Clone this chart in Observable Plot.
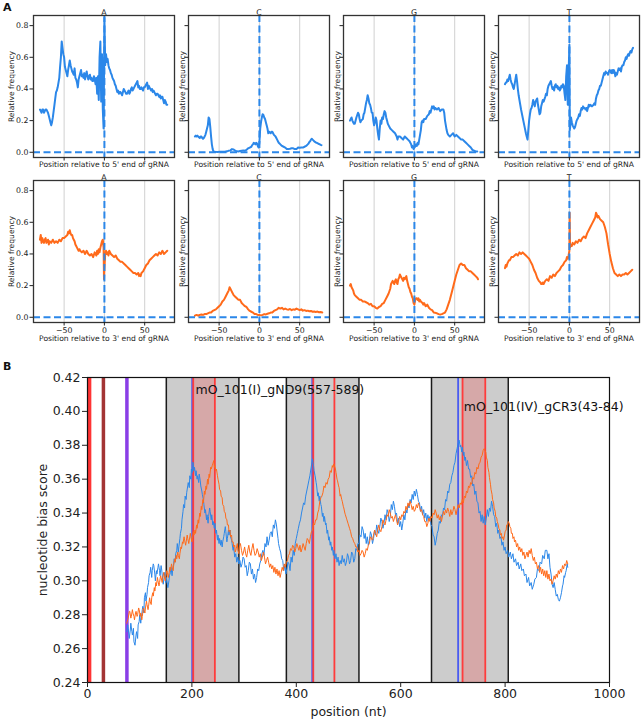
<!DOCTYPE html>
<html><head><meta charset="utf-8">
<script src="https://cdn.jsdelivr.net/npm/d3@7"></script>
<script src="https://cdn.jsdelivr.net/npm/@observablehq/plot@0.6"></script>
<style>
body{margin:0;background:#fff;font-family:"DejaVu Sans",sans-serif;}
#root{position:relative;width:641px;height:719px;overflow:hidden;background:#fff;}
#root svg{position:absolute;}
.plabel{position:absolute;font-weight:bold;font-size:11px;color:#111;font-family:"DejaVu Sans",sans-serif;}
</style></head>
<body><div id="root"></div>
<script>
// ---------- DATA: panel A (position, relative frequency) ----------
const nucleotides = ["A", "C", "G", "T"];
const endLabels = ["Position relative to 5' end of gRNA", "Position relative to 3' end of gRNA"];
const yLabelA = "Relative frequency";
const xTicksA = [-50, 0, 50];
const yTicksA = [0, 0.2, 0.4, 0.6, 0.8];

const five_A = [[-80,.27],[-79,.26],[-78,.25],[-77,.27],[-76,.27],[-75,.25],[-74,.26],[-73,.27],[-72,.27],[-71,.26],[-70,.25],[-69,.23],[-68,.21],[-67,.19],[-66,.17],[-65,.19],[-64,.22],[-63,.26],[-62,.30],[-61,.34],[-60,.38],[-59,.39],[-58,.41],[-57,.44],[-56,.47],[-55,.54],[-54,.60],[-53,.70],[-52,.66],[-51,.62],[-50,.60],[-49,.54],[-48,.52],[-47,.50],[-46,.48],[-45,.52],[-44,.55],[-43,.58],[-42,.55],[-41,.53],[-40,.51],[-39,.50],[-38,.49],[-37,.53],[-36,.47],[-35,.46],[-34,.44],[-33,.41],[-32,.46],[-31,.48],[-30,.50],[-29,.52],[-28,.48],[-27,.49],[-26,.47],[-25,.50],[-24,.46],[-23,.49],[-22,.51],[-21,.48],[-20,.46],[-19,.48],[-18,.49],[-17,.46],[-16,.47],[-15,.45],[-14,.45],[-13,.48],[-12,.46],[-11,.43],[-10,.47],[-9,.37],[-8,.48],[-7,.33],[-6,.60],[-5,.70],[-4,.32],[-3,.62],[-2,.27],[-1,.15],[0,.85],[1,.55],[2,.62],[3,.57],[4,.59],[5,.55],[6,.53],[7,.52],[8,.50],[9,.49],[10,.47],[11,.46],[12,.45],[13,.43],[14,.42],[15,.40],[16,.38],[17,.39],[18,.37],[19,.38],[20,.38],[21,.37],[22,.36],[23,.38],[24,.40],[25,.39],[26,.38],[27,.37],[28,.37],[29,.38],[30,.39],[31,.37],[32,.38],[33,.40],[34,.41],[35,.39],[36,.40],[37,.41],[38,.42],[39,.43],[40,.44],[41,.45],[42,.41],[43,.42],[44,.40],[45,.40],[46,.41],[47,.40],[48,.39],[49,.41],[50,.41],[51,.42],[52,.43],[53,.44],[54,.40],[55,.42],[56,.41],[57,.40],[58,.39],[59,.40],[60,.38],[61,.39],[62,.38],[63,.37],[64,.36],[65,.37],[66,.37],[67,.36],[68,.35],[69,.36],[70,.34],[71,.35],[72,.35],[73,.33],[74,.31],[75,.33],[76,.32],[77,.30],[78,.30]];
const five_C = [[-80,.10],[-79,.105],[-78,.10],[-77,.105],[-76,.10],[-75,.095],[-74,.09],[-73,.10],[-72,.10],[-71,.09],[-70,.085],[-69,.09],[-68,.10],[-67,.11],[-66,.13],[-65,.15],[-64,.17],[-63,.22],[-62,.21],[-61,.16],[-60,.10],[-59,.05],[-58,.02],[-57,.005],[-55,.003],[-52,.002],[-49,.003],[-46,.004],[-43,.003],[-40,.006],[-38,.01],[-36,.012],[-34,.02],[-32,.018],[-30,.01],[-28,.006],[-26,.005],[-24,.008],[-22,.01],[-20,.012],[-18,.01],[-16,.015],[-14,.025],[-12,.03],[-10,.035],[-9,.045],[-8,.05],[-7,.06],[-6,.055],[-5,.05],[-4,.06],[-3,.055],[-2,.04],[-1,.03],[0,.06],[1,.15],[2,.19],[3,.22],[4,.24],[5,.235],[6,.22],[7,.21],[8,.19],[9,.17],[10,.15],[11,.12],[12,.13],[13,.125],[14,.12],[15,.13],[16,.13],[17,.12],[18,.11],[19,.105],[20,.10],[21,.09],[22,.08],[23,.07],[24,.06],[25,.055],[26,.05],[28,.04],[30,.035],[32,.03],[34,.02],[36,.02],[38,.022],[40,.025],[42,.025],[44,.02],[46,.02],[48,.03],[50,.028],[52,.03],[54,.03],[56,.035],[58,.04],[60,.05],[61,.055],[62,.065],[63,.07],[64,.08],[65,.085],[66,.08],[67,.075],[68,.07],[69,.065],[70,.062],[71,.06],[72,.058],[73,.055],[74,.052],[75,.05],[76,.047],[77,.045]];
const five_G = [[-80,.20],[-79,.21],[-78,.22],[-77,.20],[-76,.19],[-75,.18],[-74,.18],[-72,.22],[-70,.25],[-69,.24],[-68,.21],[-67,.19],[-66,.20],[-64,.21],[-63,.24],[-62,.25],[-61,.28],[-60,.31],[-59,.33],[-58,.36],[-57,.34],[-56,.31],[-55,.30],[-54,.28],[-53,.25],[-52,.25],[-51,.20],[-50,.17],[-49,.19],[-48,.22],[-47,.20],[-46,.15],[-45,.11],[-44,.08],[-43,.15],[-42,.20],[-41,.18],[-40,.22],[-39,.21],[-38,.24],[-37,.26],[-36,.25],[-35,.22],[-34,.20],[-33,.18],[-32,.17],[-30,.15],[-28,.14],[-26,.13],[-24,.12],[-22,.10],[-21,.08],[-20,.10],[-18,.10],[-16,.09],[-14,.08],[-12,.10],[-10,.09],[-8,.08],[-6,.07],[-4,.05],[-3,.03],[-2,.04],[-1,.02],[0,.03],[1,.04],[2,.05],[3,.04],[4,.06],[5,.05],[6,.08],[7,.11],[8,.14],[9,.19],[10,.20],[11,.19],[12,.21],[14,.21],[16,.23],[18,.24],[19,.26],[20,.25],[21,.27],[22,.29],[23,.28],[24,.29],[25,.27],[26,.28],[28,.27],[30,.28],[32,.26],[34,.27],[36,.27],[37,.25],[38,.20],[39,.17],[40,.14],[41,.12],[42,.11],[44,.10],[46,.11],[48,.12],[50,.10],[52,.11],[54,.10],[56,.09],[58,.08],[60,.08],[62,.07],[64,.06],[66,.05],[68,.04],[70,.03],[72,.015],[74,.01],[76,.005],[78,.005]];
const five_T = [[-80,.43],[-79,.44],[-78,.44],[-77,.46],[-76,.45],[-75,.47],[-74,.49],[-73,.46],[-72,.44],[-71,.43],[-70,.41],[-69,.40],[-68,.43],[-67,.46],[-66,.49],[-65,.45],[-64,.40],[-63,.36],[-62,.33],[-61,.30],[-60,.27],[-58,.22],[-56,.17],[-54,.12],[-53,.10],[-52,.08],[-51,.14],[-50,.20],[-49,.24],[-48,.27],[-47,.28],[-46,.30],[-45,.33],[-44,.31],[-43,.29],[-42,.32],[-41,.33],[-40,.34],[-39,.30],[-38,.27],[-37,.24],[-36,.25],[-35,.29],[-34,.31],[-33,.33],[-32,.32],[-30,.35],[-29,.37],[-28,.36],[-27,.40],[-26,.42],[-25,.43],[-24,.44],[-23,.45],[-22,.42],[-21,.40],[-20,.41],[-19,.39],[-18,.42],[-17,.43],[-16,.41],[-15,.42],[-14,.40],[-13,.41],[-12,.39],[-11,.40],[-10,.42],[-9,.41],[-8,.43],[-7,.42],[-6,.37],[-5,.33],[-4,.48],[-3,.55],[-2,.30],[-1,.50],[0,.68],[0.5,.14],[1,.16],[2,.22],[3,.19],[4,.17],[5,.16],[6,.15],[7,.16],[8,.18],[9,.20],[10,.21],[11,.22],[12,.24],[13,.23],[14,.26],[15,.28],[16,.27],[17,.29],[18,.28],[19,.28],[20,.27],[21,.28],[22,.26],[23,.28],[24,.30],[25,.29],[26,.30],[28,.29],[30,.30],[31,.31],[32,.30],[33,.34],[34,.36],[35,.37],[36,.39],[37,.40],[38,.42],[39,.42],[40,.44],[41,.46],[42,.48],[43,.50],[44,.49],[45,.51],[46,.50],[47,.50],[48,.49],[49,.51],[50,.52],[51,.51],[52,.50],[53,.52],[54,.50],[55,.52],[56,.51],[57,.48],[58,.50],[59,.49],[60,.51],[61,.53],[62,.52],[63,.53],[64,.51],[65,.54],[66,.55],[67,.55],[68,.57],[69,.58],[70,.60],[71,.59],[72,.61],[73,.62],[74,.61],[75,.63],[76,.64],[77,.63],[78,.65],[79,.66]];

const three_A = [[-80,.49],[-79,.52],[-78,.47],[-77,.50],[-76,.48],[-75,.47],[-74,.49],[-73,.50],[-72,.47],[-71,.48],[-70,.49],[-69,.46],[-68,.48],[-66,.47],[-64,.49],[-62,.47],[-60,.48],[-58,.47],[-56,.49],[-54,.48],[-52,.50],[-50,.50],[-48,.51],[-46,.52],[-45,.54],[-44,.53],[-43,.55],[-42,.53],[-41,.52],[-40,.52],[-39,.50],[-38,.49],[-37,.48],[-36,.46],[-35,.45],[-34,.44],[-33,.43],[-32,.42],[-31,.43],[-30,.42],[-28,.41],[-26,.42],[-24,.40],[-22,.42],[-20,.40],[-18,.39],[-16,.40],[-14,.38],[-12,.41],[-10,.39],[-9,.42],[-8,.40],[-7,.43],[-6,.41],[-5,.44],[-4,.46],[-3,.48],[-2,.49],[-1,.44],[-0.5,.24],[0,.30],[1,.40],[2,.42],[3,.40],[4,.41],[5,.39],[6,.42],[8,.40],[10,.39],[12,.38],[14,.39],[16,.37],[18,.36],[20,.35],[22,.35],[24,.34],[26,.33],[28,.32],[30,.31],[32,.30],[34,.29],[36,.28],[38,.28],[40,.27],[42,.28],[43,.26],[44,.27],[45,.26],[46,.28],[48,.29],[50,.31],[52,.33],[54,.34],[56,.36],[58,.37],[60,.38],[62,.39],[64,.40],[66,.39],[68,.41],[70,.40],[72,.42],[74,.40],[76,.41],[78,.42]];
const three_C = [[-80,.01],[-78,.015],[-76,.01],[-74,.015],[-72,.018],[-70,.015],[-68,.02],[-66,.02],[-64,.025],[-62,.03],[-60,.03],[-58,.04],[-56,.045],[-54,.05],[-52,.06],[-50,.07],[-48,.08],[-46,.10],[-44,.11],[-42,.13],[-40,.15],[-38,.17],[-37,.19],[-36,.18],[-35,.17],[-34,.16],[-32,.14],[-30,.13],[-28,.12],[-26,.11],[-24,.11],[-22,.09],[-20,.08],[-18,.07],[-16,.065],[-14,.05],[-12,.04],[-10,.035],[-8,.03],[-6,.02],[-4,.02],[-2,.015],[0,.015],[2,.012],[4,.015],[6,.02],[8,.018],[10,.022],[12,.025],[14,.03],[16,.03],[18,.04],[20,.045],[22,.05],[24,.06],[26,.055],[28,.06],[30,.05],[32,.055],[34,.05],[36,.048],[38,.052],[40,.045],[42,.05],[44,.048],[46,.055],[48,.05],[50,.045],[52,.05],[54,.042],[56,.045],[58,.04],[60,.042],[62,.038],[64,.04],[66,.035],[68,.036],[70,.034],[72,.036],[74,.032],[76,.033],[78,.03]];
const three_G = [[-80,.20],[-79,.21],[-78,.19],[-77,.18],[-76,.17],[-75,.15],[-74,.14],[-72,.13],[-70,.12],[-68,.11],[-66,.11],[-64,.10],[-62,.10],[-60,.095],[-58,.09],[-56,.08],[-54,.085],[-52,.07],[-50,.07],[-48,.06],[-46,.055],[-45,.06],[-44,.065],[-42,.07],[-40,.085],[-38,.09],[-36,.11],[-34,.13],[-32,.15],[-30,.18],[-29,.21],[-28,.22],[-27,.23],[-26,.22],[-25,.21],[-24,.23],[-23,.24],[-22,.22],[-21,.21],[-20,.24],[-19,.25],[-18,.27],[-17,.26],[-16,.25],[-15,.24],[-14,.23],[-13,.25],[-12,.24],[-11,.25],[-10,.26],[-9,.23],[-8,.21],[-7,.19],[-6,.18],[-5,.16],[-4,.15],[-3,.13],[-2,.12],[-1,.09],[0,.08],[1,.11],[2,.12],[3,.12],[4,.11],[5,.12],[6,.10],[7,.11],[8,.10],[10,.09],[11,.08],[12,.09],[14,.07],[16,.08],[18,.06],[20,.05],[22,.045],[24,.03],[26,.028],[28,.025],[30,.02],[32,.018],[34,.02],[36,.025],[38,.03],[40,.05],[42,.08],[44,.11],[46,.15],[48,.19],[50,.23],[52,.27],[54,.30],[56,.33],[58,.34],[60,.33],[62,.33],[64,.31],[66,.30],[68,.29],[70,.29],[72,.28],[74,.27],[76,.26],[78,.25],[79,.24]];
const three_T = [[-80,.31],[-79,.33],[-78,.32],[-77,.34],[-76,.35],[-75,.36],[-74,.36],[-72,.38],[-70,.38],[-68,.39],[-66,.40],[-64,.39],[-62,.41],[-60,.40],[-58,.41],[-56,.40],[-54,.39],[-52,.38],[-50,.37],[-48,.35],[-46,.33],[-44,.30],[-42,.28],[-40,.25],[-38,.23],[-36,.22],[-35,.21],[-34,.21],[-33,.22],[-32,.21],[-30,.23],[-28,.24],[-26,.23],[-24,.26],[-22,.25],[-20,.27],[-18,.26],[-16,.28],[-14,.29],[-12,.30],[-10,.32],[-8,.33],[-6,.35],[-4,.36],[-3,.38],[-2,.37],[-1,.39],[0,.42],[0.3,.66],[0.8,.44],[1.5,.46],[3,.45],[4,.47],[6,.46],[8,.48],[10,.47],[12,.49],[14,.48],[16,.50],[18,.51],[20,.50],[22,.53],[24,.55],[26,.57],[28,.59],[30,.61],[32,.63],[33,.66],[34,.65],[35,.63],[36,.64],[38,.62],[40,.61],[42,.60],[44,.57],[46,.53],[48,.46],[50,.40],[52,.35],[54,.31],[56,.28],[58,.27],[60,.26],[62,.27],[64,.26],[66,.27],[68,.27],[70,.28],[72,.27],[74,.28],[76,.29],[78,.30]];

// ---------- DATA: panel B (position nt, nucleotide bias score) ----------
const blueB = [[75,.270],[77,.274],[78,.272],[80,.266],[82,.271],[83,.275],[85,.27],[86,.268],[88,.272],[89,.264],[91,.262],[93,.268],[94,.270],[96,.266],[97,.274],[99,.276],[100,.280],[102,.275],[103,.278],[105,.283],[106,.285],[108,.281],[109,.290],[111,.293],[112,.288],[114,.292],[115,.296],[117,.299],[118,.303],[120,.305],[121,.308],[123,.302],[124,.306],[126,.31],[127,.309],[129,.304],[130,.300],[132,.306],[133,.304],[135,.308],[136,.310],[138,.306],[139,.303],[141,.309],[142,.307],[144,.301],[145,.298],[147,.302],[148,.305],[150,.299],[151,.302],[153,.298],[154,.296],[156,.300],[157,.303],[159,.305],[160,.308],[162,.303],[163,.306],[165,.31],[166,.313],[168,.311],[169,.316],[171,.318],[172,.322],[174,.317],[175,.320],[177,.325],[178,.328],[180,.331],[181,.336],[183,.341],[184,.345],[186,.343],[187,.350],[189,.348],[190,.352],[192,.356],[193,.358],[195,.355],[196,.362],[198,.36],[199,.366],[201,.364],[202,.370],[204,.365],[205,.367],[207,.362],[208,.365],[210,.36],[211,.362],[213,.358],[214,.363],[216,.359],[217,.356],[219,.353],[220,.351],[222,.348],[223,.345],[225,.34],[226,.342],[228,.336],[229,.339],[231,.334],[232,.338],[234,.343],[235,.341],[237,.336],[238,.339],[240,.333],[241,.335],[243,.331],[244,.334],[246,.328],[247,.330],[249,.324],[250,.327],[252,.322],[253,.325],[255,.321],[256,.324],[258,.32],[259,.323],[261,.326],[262,.328],[264,.332],[265,.329],[267,.323],[268,.325],[270,.33],[271,.327],[273,.33],[274,.326],[276,.324],[277,.322],[279,.318],[280,.320],[282,.314],[284,.316],[286,.311],[288,.314],[290,.31],[292,.312],[294,.308],[296,.310],[298,.314],[300,.313],[302,.308],[304,.309],[306,.303],[308,.306],[310,.311],[312,.310],[314,.304],[316,.307],[318,.301],[320,.304],[322,.299],[324,.302],[326,.307],[328,.306],[330,.31],[332,.312],[334,.316],[336,.318],[338,.315],[340,.322],[342,.32],[344,.326],[346,.321],[348,.324],[350,.328],[352,.329],[354,.326],[356,.333],[358,.331],[360,.336],[362,.333],[363,.330],[365,.325],[366,.322],[368,.319],[370,.317],[372,.313],[374,.312],[376,.306],[378,.309],[380,.304],[382,.307],[384,.311],[386,.310],[388,.306],[390,.314],[392,.311],[394,.318],[396,.315],[398,.322],[400,.325],[402,.328],[404,.331],[406,.334],[408,.336],[410,.340],[412,.343],[414,.346],[416,.345],[418,.350],[420,.353],[422,.356],[424,.359],[426,.362],[428,.366],[430,.370],[431,.372],[433,.368],[434,.365],[436,.362],[438,.358],[439,.356],[441,.35],[442,.352],[444,.347],[445,.350],[447,.345],[448,.344],[450,.338],[451,.340],[453,.335],[454,.338],[456,.333],[457,.334],[459,.328],[460,.330],[462,.324],[463,.326],[465,.321],[466,.323],[468,.318],[469,.320],[471,.315],[472,.318],[474,.313],[476,.316],[478,.311],[480,.314],[482,.309],[484,.312],[486,.31],[488,.315],[490,.311],[492,.313],[494,.309],[496,.311],[498,.316],[500,.314],[502,.31],[504,.312],[506,.317],[508,.316],[510,.311],[512,.313],[514,.319],[516,.318],[518,.322],[520,.322],[522,.327],[524,.326],[526,.332],[528,.330],[530,.325],[532,.328],[534,.322],[536,.326],[538,.321],[540,.324],[542,.329],[544,.327],[546,.322],[548,.325],[550,.33],[552,.327],[554,.333],[556,.330],[558,.328],[560,.332],[562,.337],[564,.335],[566,.331],[568,.334],[570,.339],[572,.336],[574,.342],[576,.340],[578,.335],[580,.338],[582,.345],[584,.342],[586,.347],[588,.344],[590,.339],[592,.340],[594,.334],[596,.337],[598,.332],[600,.335],[602,.33],[604,.334],[606,.339],[608,.336],[610,.342],[612,.340],[614,.345],[616,.343],[618,.348],[620,.346],[622,.351],[624,.348],[626,.353],[628,.350],[630,.354],[632,.351],[634,.347],[636,.346],[638,.341],[640,.344],[642,.339],[644,.342],[646,.337],[648,.340],[650,.335],[652,.339],[654,.336],[656,.338],[658,.333],[660,.332],[662,.327],[664,.326],[666,.321],[668,.324],[670,.328],[672,.330],[674,.335],[676,.334],[678,.339],[680,.338],[682,.343],[684,.342],[686,.348],[688,.347],[690,.353],[692,.352],[694,.357],[696,.358],[698,.362],[700,.364],[702,.368],[704,.370],[706,.375],[708,.378],[710,.381],[712,.383],[714,.379],[715,.380],[717,.376],[718,.379],[720,.374],[721,.376],[723,.371],[724,.373],[726,.368],[728,.371],[730,.366],[732,.366],[734,.361],[736,.362],[738,.356],[740,.357],[742,.351],[744,.353],[746,.347],[748,.346],[750,.34],[752,.341],[754,.335],[756,.339],[758,.334],[760,.338],[762,.333],[764,.337],[766,.342],[768,.338],[770,.343],[772,.341],[774,.347],[776,.344],[778,.339],[780,.338],[782,.332],[784,.334],[786,.328],[788,.330],[790,.325],[792,.326],[794,.321],[796,.323],[798,.318],[800,.320],[802,.316],[805,.318],[807,.314],[810,.317],[812,.313],[815,.316],[817,.311],[820,.313],[822,.309],[825,.311],[827,.307],[830,.310],[832,.306],[835,.307],[837,.303],[840,.304],[842,.299],[845,.302],[847,.297],[850,.299],[852,.295],[855,.298],[857,.301],[860,.302],[862,.307],[865,.306],[867,.311],[870,.310],[872,.315],[875,.313],[877,.318],[880,.318],[882,.313],[884,.316],[886,.308],[888,.304],[890,.298],[892,.296],[894,.299],[896,.295],[898,.291],[900,.292],[902,.289],[904,.288],[906,.29],[908,.293],[910,.297],[911,.298],[913,.303],[914,.302],[916,.305],[917,.306],[919,.31],[920,.308]];
const orangeB = [[75,.275],[77,.277],[78,.278],[80,.282],[81,.282],[83,.278],[84,.279],[86,.283],[87,.281],[89,.279],[90,.277],[92,.281],[93,.282],[95,.279],[96,.280],[98,.284],[99,.283],[101,.279],[102,.281],[104,.277],[105,.279],[107,.284],[108,.283],[110,.281],[111,.284],[113,.288],[114,.286],[116,.283],[117,.285],[119,.29],[120,.288],[122,.286],[123,.290],[125,.293],[126,.291],[128,.296],[129,.294],[131,.299],[132,.297],[134,.302],[135,.300],[137,.297],[138,.299],[140,.303],[141,.302],[143,.299],[144,.301],[146,.305],[147,.303],[149,.3],[150,.302],[152,.306],[153,.305],[155,.302],[156,.304],[158,.308],[159,.306],[161,.31],[162,.308],[164,.306],[165,.309],[167,.313],[168,.311],[170,.315],[171,.313],[173,.317],[174,.315],[176,.313],[177,.316],[179,.32],[180,.319],[182,.323],[183,.322],[185,.326],[186,.324],[188,.321],[189,.323],[191,.327],[192,.325],[194,.322],[195,.324],[197,.328],[198,.326],[200,.323],[201,.325],[203,.329],[204,.327],[206,.33],[207,.328],[209,.333],[210,.331],[212,.336],[213,.334],[215,.34],[216,.338],[218,.344],[219,.342],[221,.348],[222,.346],[224,.353],[225,.351],[227,.356],[228,.354],[230,.36],[231,.357],[233,.363],[234,.361],[236,.367],[237,.366],[239,.368],[240,.369],[242,.371],[243,.367],[244,.368],[246,.365],[247,.366],[249,.362],[250,.36],[252,.357],[253,.354],[255,.353],[256,.35],[258,.349],[259,.345],[261,.344],[262,.341],[264,.340],[265,.337],[267,.336],[268,.333],[270,.333],[271,.329],[273,.330],[274,.326],[276,.327],[277,.323],[279,.323],[280,.32],[282,.321],[283,.317],[285,.319],[287,.322],[288,.318],[290,.316],[291,.320],[293,.322],[295,.318],[297,.315],[299,.317],[301,.32],[303,.316],[305,.314],[307,.318],[309,.321],[311,.317],[313,.315],[315,.319],[317,.322],[319,.318],[321,.315],[323,.316],[325,.319],[327,.317],[329,.314],[331,.316],[333,.312],[335,.314],[337,.317],[339,.314],[341,.31],[343,.312],[345,.314],[347,.311],[349,.308],[351,.310],[353,.307],[355,.309],[357,.305],[359,.308],[361,.304],[363,.307],[365,.303],[367,.306],[369,.302],[371,.305],[373,.308],[375,.306],[377,.31],[379,.308],[381,.311],[383,.312],[385,.315],[387,.316],[389,.319],[391,.318],[393,.321],[395,.320],[397,.317],[399,.319],[401,.322],[403,.320],[405,.318],[407,.321],[409,.317],[411,.319],[413,.322],[415,.320],[417,.318],[419,.322],[421,.325],[423,.324],[425,.322],[427,.326],[429,.329],[431,.330],[433,.334],[435,.333],[437,.336],[439,.336],[441,.34],[443,.342],[445,.347],[447,.349],[449,.35],[451,.352],[453,.356],[455,.355],[457,.358],[459,.357],[461,.36],[463,.361],[465,.365],[467,.364],[469,.368],[470,.367],[472,.369],[473,.368],[475,.366],[476,.364],[478,.36],[479,.359],[481,.356],[482,.355],[484,.35],[485,.351],[487,.348],[488,.347],[490,.344],[491,.343],[493,.34],[494,.339],[496,.337],[497,.336],[499,.334],[500,.333],[502,.331],[504,.329],[506,.326],[508,.325],[510,.323],[512,.322],[514,.32],[516,.320],[518,.317],[520,.318],[522,.315],[524,.316],[526,.318],[528,.317],[530,.314],[532,.316],[534,.319],[536,.318],[538,.321],[540,.322],[542,.326],[544,.325],[546,.324],[548,.327],[550,.33],[552,.328],[554,.326],[556,.330],[558,.333],[560,.330],[562,.329],[564,.332],[566,.336],[568,.334],[570,.333],[572,.336],[574,.339],[576,.338],[578,.342],[580,.340],[582,.337],[584,.338],[586,.335],[588,.337],[590,.339],[592,.336],[594,.333],[596,.335],[598,.338],[600,.336],[602,.339],[604,.338],[606,.341],[608,.340],[610,.344],[612,.342],[614,.346],[616,.344],[618,.347],[620,.345],[622,.342],[624,.344],[626,.341],[628,.342],[630,.345],[632,.343],[634,.346],[636,.344],[638,.341],[640,.342],[642,.339],[644,.338],[646,.335],[648,.335],[650,.332],[652,.334],[654,.337],[656,.335],[658,.338],[660,.337],[662,.34],[664,.339],[666,.342],[668,.340],[670,.337],[672,.339],[674,.336],[676,.338],[678,.335],[680,.338],[682,.341],[684,.339],[686,.342],[688,.340],[690,.343],[692,.341],[694,.338],[696,.342],[698,.339],[700,.341],[702,.344],[704,.342],[706,.339],[708,.342],[710,.345],[712,.343],[714,.346],[716,.345],[718,.348],[720,.346],[722,.35],[724,.349],[726,.353],[728,.352],[730,.356],[732,.355],[734,.358],[736,.357],[738,.361],[740,.360],[742,.364],[744,.363],[746,.367],[748,.366],[750,.369],[752,.370],[754,.373],[756,.374],[758,.377],[760,.378],[761,.377],[763,.376],[764,.373],[766,.371],[767,.367],[769,.364],[770,.361],[772,.357],[773,.354],[775,.351],[776,.348],[778,.346],[779,.343],[781,.341],[782,.338],[784,.337],[785,.335],[787,.333],[788,.331],[790,.330],[791,.327],[793,.328],[794,.325],[796,.326],[797,.324],[799,.327],[800,.329],[802,.330],[803,.333],[805,.333],[806,.335],[808,.334],[809,.332],[811,.331],[812,.328],[814,.328],[815,.325],[817,.326],[818,.323],[820,.324],[822,.32],[824,.322],[826,.318],[828,.320],[830,.317],[832,.319],[834,.315],[836,.317],[838,.313],[840,.315],[842,.317],[844,.314],[846,.318],[848,.316],[850,.319],[852,.315],[854,.312],[856,.314],[858,.31],[860,.311],[862,.307],[864,.309],[866,.305],[868,.308],[870,.304],[872,.307],[874,.303],[876,.306],[878,.302],[880,.306],[882,.301],[884,.304],[886,.3],[888,.301],[890,.298],[892,.300],[894,.303],[896,.301],[898,.304],[900,.302],[902,.306],[904,.304],[906,.307],[908,.305],[910,.309],[912,.307],[914,.31],[916,.309],[918,.312],[920,.310]];

const grayRegions = [[151, 290], [381, 520], [659, 806]];
const seedRegions = [[203, 244], [718, 762]];
const blueMarks = [200.5, 430.5, 710];
const redMarks = [202.5, 244, 432.5, 473, 718.5, 762];
const startMark = [4];
const brownMark = [30.5];
const purpleMark = [75.5];
const gRNALabels = [
  {x: 207, y: 0.4128, text: "mO_101(I)_gND9(557-589)"},
  {x: 721, y: 0.4025, text: "mO_101(IV)_gCR3(43-84)"}
];
const xTicksB = [0, 200, 400, 600, 800, 1000];
const yTicksB = [0.24, 0.26, 0.28, 0.30, 0.32, 0.34, 0.36, 0.38, 0.40, 0.42];
const xLabelB = "position (nt)";
const yLabelB = "nucleotide bias score";

// ---------- STYLE ----------
const BLUE = "#2b87e9", ORANGE = "#ff6a1a";
const root = document.getElementById("root");
const seriesRows = [[five_A, five_C, five_G, five_T], [three_A, three_C, three_G, three_T]];
const rowColors = [BLUE, ORANGE];
const panelLefts = [32.5, 187.6, 342.7, 498];
const panelTops = [15, 180];

function smallPanel(series, color, title, xLabel, col, row) {
  const mL = 33, mR = 6, mT = 15, mB = 26, fw = 141, fh = 142;
  const dash = {stroke: BLUE, strokeWidth: 2, strokeDasharray: "7,3.5"};
  const svg = Plot.plot({
    width: mL + fw + mR, height: mT + fh + mB,
    marginLeft: mL, marginRight: mR, marginTop: mT, marginBottom: mB,
    style: {background: "transparent", fontFamily: "DejaVu Sans, sans-serif", fontSize: "7.8px", color: "#222", overflow: "visible"},
    x: {domain: [-88, 87]},
    y: {domain: [-0.033, 0.864]},
    marks: [
      Plot.ruleX(xTicksA, {stroke: "#d0d0d0", strokeWidth: 1}),
      Plot.line(series, {x: d => d[0], y: d => d[1], stroke: color, strokeWidth: 2, strokeLinejoin: "round"}),
      Plot.ruleY([0], dash),
      Plot.ruleX([0], dash),
      Plot.frame({stroke: "#333", strokeWidth: 1.3}),
      Plot.axisX({ticks: xTicksA, tickSize: 3.5, tickPadding: 1,
        tickFormat: row === 1 ? d3.format("d") : () => "", label: null}),
      Plot.axisY({ticks: yTicksA, tickSize: 3.5, tickPadding: 1.5,
        tickFormat: col === 0 ? d3.format(".1f") : () => "", label: null}),
      Plot.text([title], {text: d => d, frameAnchor: "top", dy: -6, fontSize: 7.8, fill: "#222"}),
      Plot.text([xLabel], {text: d => d, frameAnchor: "bottom", dy: row === 1 ? 16.5 : 7.5, lineAnchor: "middle", fontSize: 7.6, fill: "#222"}),
      Plot.text([yLabelA], {text: d => d, frameAnchor: "left", rotate: -90, dx: col === 0 ? -21.5 : -5.5, textAnchor: "middle", lineAnchor: "middle", fontSize: 7.6, fill: "#222"})
    ]
  });
  svg.style.left = (panelLefts[col] - mL) + "px";
  svg.style.top = (panelTops[row] - mT) + "px";
  root.appendChild(svg);
}

for (let r = 0; r < 2; r++) {
  for (let c = 0; c < 4; c++) {
    smallPanel(seriesRows[r][c], rowColors[r], nucleotides[c], endLabels[r], c, r);
  }
}

// ---------- Panel B ----------
const B = Plot.plot({
  width: 641, height: 359,
  marginLeft: 87, marginRight: 32, marginTop: 17, marginBottom: 37,
  style: {background: "transparent", fontFamily: "DejaVu Sans, sans-serif", fontSize: "12.5px", color: "#222", overflow: "visible"},
  x: {domain: [0, 1000]},
  y: {domain: [0.24, 0.42]},
  marks: [
    Plot.rect(grayRegions, {x1: d => d[0], x2: d => d[1], y1: 0.24, y2: 0.42, fill: "#cccccc"}),
    Plot.rect(seedRegions, {x1: d => d[0], x2: d => d[1], y1: 0.24, y2: 0.42, fill: "#d6a8a8"}),
    Plot.ruleX(grayRegions.flat(), {stroke: "#1a1a1a", strokeWidth: 1.5}),
    Plot.ruleX(startMark, {stroke: "#ff3434", strokeWidth: 3.5}),
    Plot.ruleX(brownMark, {stroke: "#a33434", strokeWidth: 3.5}),
    Plot.ruleX(purpleMark, {stroke: "#8a3ee6", strokeWidth: 3.5}),
    Plot.ruleX(blueMarks, {stroke: "#4b5cf0", strokeWidth: 1.8}),
    Plot.ruleX(redMarks, {stroke: "#ff3b3b", strokeWidth: 1.8}),
    Plot.line(blueB, {x: d => d[0], y: d => d[1], stroke: BLUE, strokeWidth: 1}),
    Plot.line(orangeB, {x: d => d[0], y: d => d[1], stroke: ORANGE, strokeWidth: 1}),
    Plot.text(gRNALabels, {x: "x", y: "y", text: "text", textAnchor: "start", fontSize: 12.5, fill: "#111"}),
    Plot.frame({stroke: "#111", strokeWidth: 1.2}),
    Plot.axisX({ticks: xTicksB, tickSize: 5, tickPadding: 2, tickFormat: d3.format("d"), label: null}),
    Plot.axisY({ticks: yTicksB, tickSize: 5, tickPadding: 2, tickFormat: d3.format(".2f"), label: null}),
    Plot.text([xLabelB], {text: d => d, frameAnchor: "bottom", dy: 29, lineAnchor: "middle", fontSize: 12.5, fill: "#222"}),
    Plot.text([yLabelB], {text: d => d, frameAnchor: "left", rotate: -90, dx: -45, textAnchor: "middle", lineAnchor: "middle", fontSize: 12.5, fill: "#222"})
  ]
});
B.style.left = "0px";
B.style.top = "360px";
root.appendChild(B);

// panel letters
for (const [t, top] of [["A", 1], ["B", 360]]) {
  const d = document.createElement("div");
  d.className = "plabel";
  d.textContent = t;
  d.style.left = "3px";
  d.style.top = top + "px";
  root.appendChild(d);
}
</script>
</body></html>
